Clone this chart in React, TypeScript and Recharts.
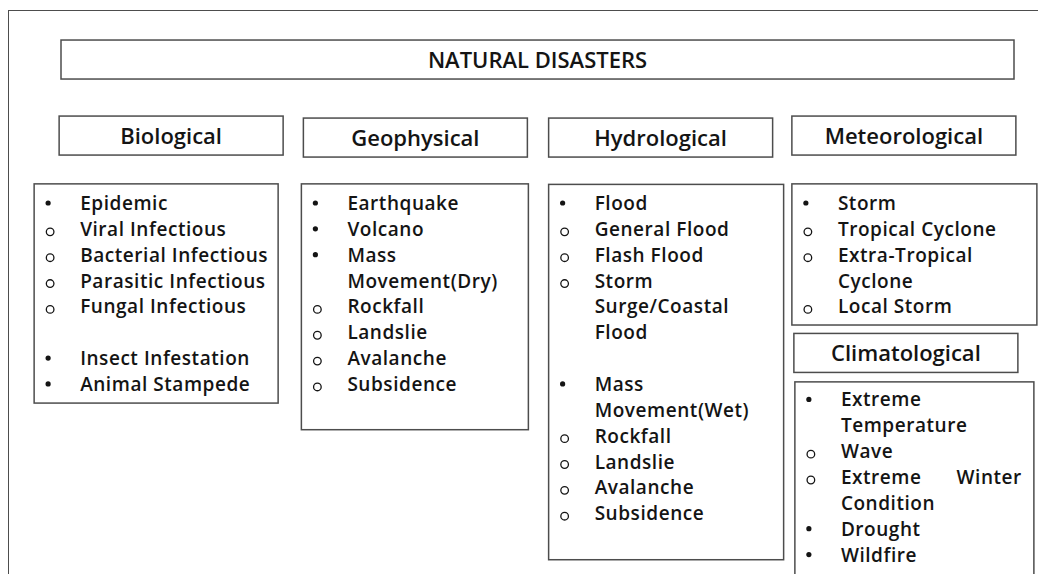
import { ScatterChart, Scatter, XAxis, YAxis } from 'recharts';

const WIDTH = 1038;
const HEIGHT = 574;

const TITLE = 'NATURAL DISASTERS';
const CATEGORIES = ['Biological', 'Geophysical', 'Hydrological', 'Meteorological'];
const SUB_CATEGORY = 'Climatological';

// marker: '*' main bullet, 'o' sub bullet, '' wrapped line; null = empty row
type Item = [string, string] | null;

const BIOLOGICAL: Item[] = [
  ['*', 'Epidemic'],
  ['o', 'Viral Infectious'],
  ['o', 'Bacterial Infectious'],
  ['o', 'Parasitic Infectious'],
  ['o', 'Fungal Infectious'],
  null,
  ['*', 'Insect Infestation'],
  ['*', 'Animal Stampede'],
];

const GEOPHYSICAL: Item[] = [
  ['*', 'Earthquake'],
  ['*', 'Volcano'],
  ['*', 'Mass'],
  ['', 'Movement(Dry)'],
  ['o', 'Rockfall'],
  ['o', 'Landslie'],
  ['o', 'Avalanche'],
  ['o', 'Subsidence'],
];

const HYDROLOGICAL: Item[] = [
  ['*', 'Flood'],
  ['o', 'General Flood'],
  ['o', 'Flash Flood'],
  ['o', 'Storm'],
  ['', 'Surge/Coastal'],
  ['', 'Flood'],
  null,
  ['*', 'Mass'],
  ['', 'Movement(Wet)'],
  ['o', 'Rockfall'],
  ['o', 'Landslie'],
  ['o', 'Avalanche'],
  ['o', 'Subsidence'],
];

const METEOROLOGICAL: Item[] = [
  ['*', 'Storm'],
  ['o', 'Tropical Cyclone'],
  ['o', 'Extra-Tropical'],
  ['', 'Cyclone'],
  ['o', 'Local Storm'],
];

const CLIMATOLOGICAL: Item[] = [
  ['*', 'Extreme'],
  ['', 'Temperature'],
  ['o', 'Wave'],
  ['o', 'Extreme Winter'],
  ['', 'Condition'],
  ['*', 'Drought'],
  ['*', 'Wildfire'],
];

// ---- layout (row units on the y axis, column index on the x axis)
const ROW_PX = 25.85;
const FIRST_ROW_Y = 203;
const Y_DOMAIN: [number, number] = [-FIRST_ROW_Y / ROW_PX, (HEIGHT - FIRST_ROW_Y) / ROW_PX];
const MARGIN = { top: 0, right: 12, bottom: 0, left: 49 };

const TITLE_ROW = -5.55;
const HEADER_ROW = -2.57;
const CLIM_HEADER_ROW = 5.8;
const CLIM_FIRST_ROW = 7.6;

const FONT = '"Open Sans", Lato, sans-serif';
const INK = '#141414';
const LINE = '#4d4d4d';

const LIST_STYLE: Record<string, { left: number; width: number; padTop: number; padBottom: number; justify?: string[] }> = {
  Biological: { left: -137, width: 244, padTop: 0.74, padBottom: 0.74 },
  Geophysical: { left: -114, width: 227, padTop: 0.74, padBottom: 1.77 },
  Hydrological: { left: -111, width: 235, padTop: 0.72, padBottom: 1.8 },
  Meteorological: { left: -112, width: 245, padTop: 0.74, padBottom: 0.72 },
  Climatological: { left: -109, width: 239, padTop: 0.68, padBottom: 1.2, justify: ['Extreme Winter'] },
};

const HEADER_NUDGE: Record<string, [number, number]> = {
  Biological: [0, -1],
  Geophysical: [0, 1],
  Hydrological: [1, 1],
  Meteorological: [0, -1],
  Climatological: [2, 0],
};

type Mark = {
  col: number;
  row: number;
  kind: 'title' | 'header' | 'box' | 'item';
  label?: string;
  marker?: string;
  list?: string;
  rows?: number;
};

function listMarks(list: string, col: number, items: Item[], firstRow: number): Mark[] {
  const st = LIST_STYLE[list];
  const box: Mark = {
    col,
    row: firstRow - st.padTop,
    kind: 'box',
    list,
    rows: items.length - 1 + st.padTop + st.padBottom,
  };
  const lines: Mark[] = [];
  items.forEach((it, i) => {
    if (!it) return;
    lines.push({ col, row: firstRow + i, kind: 'item', marker: it[0], label: it[1], list });
  });
  return [box, ...lines];
}

const LISTS: Item[][] = [BIOLOGICAL, GEOPHYSICAL, HYDROLOGICAL, METEOROLOGICAL];

const marks: Mark[] = [
  { col: (CATEGORIES.length - 1) / 2, row: TITLE_ROW, kind: 'title', label: TITLE },
  ...CATEGORIES.map((c, i) => ({ col: i, row: HEADER_ROW, kind: 'header' as const, label: c })),
  { col: CATEGORIES.length - 1, row: CLIM_HEADER_ROW, kind: 'header', label: SUB_CATEGORY },
  ...CATEGORIES.flatMap((c, i) => listMarks(c, i, LISTS[i], 0)),
  ...listMarks(SUB_CATEGORY, CATEGORIES.length - 1, CLIMATOLOGICAL, CLIM_FIRST_ROW),
];

const ITEM_TEXT = { fontFamily: FONT, fontSize: 19, fontWeight: 600, letterSpacing: 0.55, fill: INK };

function DiagramShape(props: any) {
  const { cx, cy, payload } = props;
  const m = payload as Mark;
  if (m.kind === 'title') {
    const w = 953;
    const h = 39;
    return (
      <g>
        <rect x={cx - w / 2} y={cy - h / 2} width={w} height={h} fill="#fff" stroke={LINE} strokeWidth={1.5} />
        <text x={cx} y={cy + 8} textAnchor="middle" fontFamily={FONT} fontSize={22} fontWeight={600} fill={INK}>
          {m.label}
        </text>
      </g>
    );
  }
  if (m.kind === 'header') {
    const [dx, dy] = HEADER_NUDGE[m.label as string] || [0, 0];
    const w = 224;
    const h = 39;
    const x = cx + dx;
    const y = cy + dy;
    return (
      <g>
        <rect x={x - w / 2} y={y - h / 2} width={w} height={h} fill="#fff" stroke={LINE} strokeWidth={1.5} />
        <text x={x} y={y + 8} textAnchor="middle" fontFamily={FONT} fontSize={22} fontWeight={600} fill={INK}>
          {m.label}
        </text>
      </g>
    );
  }
  const st = LIST_STYLE[m.list as string];
  if (m.kind === 'box') {
    return (
      <rect
        x={cx + st.left}
        y={cy}
        width={st.width}
        height={(m.rows as number) * ROW_PX}
        fill="#fff"
        stroke={LINE}
        strokeWidth={1.5}
      />
    );
  }
  const left = cx + st.left;
  const textX = left + 46;
  const bulletX = left + 14;
  const baseY = cy + 7;
  const label = m.label as string;
  const justified = st.justify?.includes(label);
  const words = label.split(' ');
  return (
    <g>
      {m.marker === '*' && <circle cx={bulletX} cy={cy} r={2.6} fill={INK} />}
      {m.marker === 'o' && <circle cx={bulletX + 2} cy={cy + 3} r={3.8} fill="none" stroke={INK} strokeWidth={1.3} />}
      {justified ? (
        <>
          <text x={textX} y={baseY} {...ITEM_TEXT}>
            {words[0]}
          </text>
          <text x={left + st.width - 12} y={baseY} textAnchor="end" {...ITEM_TEXT}>
            {words.slice(1).join(' ')}
          </text>
        </>
      ) : (
        <text x={textX} y={baseY} {...ITEM_TEXT}>
          {label}
        </text>
      )}
    </g>
  );
}

export default function App() {
  return (
    <div style={{ position: 'absolute', left: 0, top: 0, width: WIDTH, height: HEIGHT, background: '#fff', overflow: 'hidden' }}>
      <div
        style={{
          position: 'absolute',
          left: 8,
          top: 10,
          width: WIDTH,
          height: HEIGHT,
          borderLeft: `1.5px solid ${LINE}`,
          borderTop: `1.5px solid ${LINE}`,
        }}
      />
      <ScatterChart width={WIDTH} height={HEIGHT} margin={MARGIN} style={{ position: 'absolute', left: 0, top: 0 }}>
        <XAxis type="number" dataKey="col" domain={[-0.5, CATEGORIES.length - 0.5]} hide />
        <YAxis type="number" dataKey="row" domain={Y_DOMAIN} reversed hide />
        <Scatter data={marks} shape={DiagramShape} isAnimationActive={false} />
      </ScatterChart>
    </div>
  );
}
